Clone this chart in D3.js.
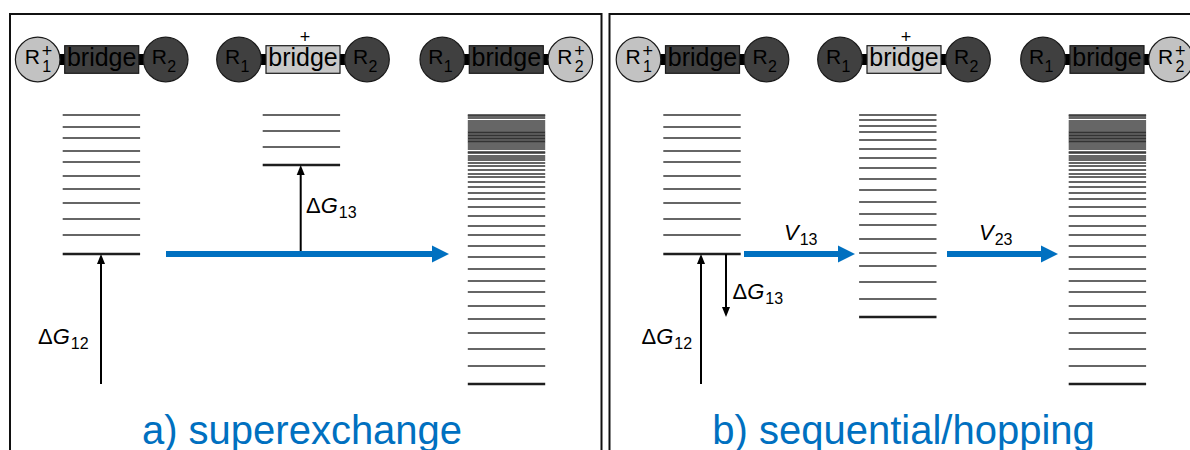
<!DOCTYPE html>
<html>
<head>
<meta charset="utf-8">
<script src="https://cdn.jsdelivr.net/npm/d3@7"></script>
<style>
  html, body { margin: 0; padding: 0; background: #fff; }
  svg { display: block; font-family: "Liberation Sans", Arial, sans-serif; }
</style>
</head>
<body>
<svg id="chart" width="1190" height="450"></svg>
<script>
// ---------------- data ----------------
const panelTitles = ["a) superexchange", "b) sequential/hopping"];
// which site carries the positive charge in each of the three states
const stateCharge = ["R1", "bridge", "R2"];
// energy levels (arbitrary energy units, 0 = acceptor ground level)
const levelsDonor = [269, 257, 246, 233, 222, 208, 195, 181, 165, 149, 130];
const levelsBridgeA = [269, 253, 237, 219];
const levelsBridgeB = [269, 264, 258, 252, 244, 235, 226, 216, 205, 194, 182, 170, 159, 145, 131, 118, 102, 85, 67];
const levelsAcceptor = [269, 268, 266, 263, 261, 259, 257, 255, 253, 251.5, 250, 248.5, 247, 245.5, 244, 242.5, 241,
  239, 237, 235, 232, 231, 228, 226, 224, 221, 218, 214, 210, 207, 202, 197, 191, 185, 177, 168, 158, 149, 138,
  127, 115, 103, 92, 78, 65, 51, 35, 18, 0];
const gapLabels = ["ΔG|12", "ΔG|13"];
const couplingLabels = ["V|13", "V|23"];

// ---------------- layout ----------------
const W = 1190, H = 450;
const svg = d3.select("#chart");
svg.append("rect").attr("width", W).attr("height", H).attr("fill", "#fff");

const y = d3.scaleLinear().domain([0, 269]).range([384, 115]);
const levelHalf = 38.7;
const blue = "#0070C0";

const layout = [
  { off: 0, cols: [101.4, 301.4, 506.5], mols: [101.7, 303, 506.3], levels: [levelsDonor, levelsBridgeA, levelsAcceptor] },
  { off: 601, cols: [702, 897.8, 1107.4], mols: [702.5, 904, 1107], levels: [levelsDonor, levelsBridgeB, levelsAcceptor] }
];

// panel frames
svg.append("path").attr("d", "M10,460 L10,14 L601.5,14 L601.5,460")
  .attr("fill", "none").attr("stroke", "#111").attr("stroke-width", 2);
svg.append("path").attr("d", "M609.5,460 L609.5,14 L1195,14")
  .attr("fill", "none").attr("stroke", "#111").attr("stroke-width", 2);

// ---------------- molecules ----------------
function drawMolecule(cx, cy, charge) {
  const g = svg.append("g");
  const dark = "#404040", light = "#c2c2c2";
  // connectors
  g.append("rect").attr("x", cx - 46).attr("y", cy - 5.5).attr("width", 10).attr("height", 11).attr("fill", "#000");
  g.append("rect").attr("x", cx + 36).attr("y", cy - 5.5).attr("width", 10).attr("height", 11).attr("fill", "#000");
  const sites = [
    { id: "R1", cx: cx - 64, sub: "1" },
    { id: "R2", cx: cx + 64, sub: "2" }
  ];
  sites.forEach(s => {
    const charged = charge === s.id;
    g.append("circle").attr("cx", s.cx).attr("cy", cy).attr("r", 22.3)
      .attr("fill", charged ? light : dark).attr("stroke", "#1a1a1a").attr("stroke-width", 1.2);
    g.append("text").attr("x", s.cx - (charged ? 13 : 14)).attr("y", cy + 4.5)
      .attr("font-size", 21).attr("fill", "#000").text("R");
    g.append("text").attr("x", s.cx + (charged ? 4.5 : 1.5)).attr("y", cy + 12)
      .attr("font-size", 16).attr("fill", "#000").text(s.sub);
    if (charged) {
      g.append("text").attr("x", s.cx + 4).attr("y", cy - 3)
        .attr("font-size", 18).attr("fill", "#000").text("+");
    }
  });
  const bc = charge === "bridge";
  g.append("rect").attr("x", cx - 37).attr("y", cy - 13.8).attr("width", 74).attr("height", 27.6)
    .attr("fill", bc ? "#c8c8c8" : dark).attr("stroke", "#1a1a1a").attr("stroke-width", 1.2);
  g.append("text").attr("x", cx).attr("y", cy + 6).attr("text-anchor", "middle")
    .attr("font-size", 25).attr("fill", "#000").text("bridge");
  if (bc) {
    g.append("text").attr("x", cx + 2).attr("y", cy - 16.5).attr("text-anchor", "middle")
      .attr("font-size", 18).attr("fill", "#000").text("+");
  }
}

// ---------------- helpers ----------------
function vArrow(x, e0, e1) {
  const y0 = y(e0), y1 = y(e1);
  const dir = y1 < y0 ? 1 : -1; // 1 = pointing up
  const head = 10;
  svg.append("line").attr("x1", x).attr("x2", x).attr("y1", y0).attr("y2", y1 + dir * head)
    .attr("stroke", "#000").attr("stroke-width", 2);
  svg.append("path")
    .attr("d", `M${x},${y1} L${x - 4},${y1 + dir * head} L${x + 4},${y1 + dir * head} Z`)
    .attr("fill", "#000");
}
function blueArrow(x0, x1, e) {
  const yy = y(e);
  const head = 17;
  svg.append("rect").attr("x", x0).attr("y", yy - 3).attr("width", x1 - head - x0 + 1).attr("height", 6).attr("fill", blue);
  svg.append("path").attr("d", `M${x1},${yy} L${x1 - head},${yy - 8.5} L${x1 - head},${yy + 8.5} Z`).attr("fill", blue);
}
function label(x, yy, spec, delta) {
  const [main, sub] = spec.split("|");
  const t = svg.append("text").attr("x", x).attr("y", yy).attr("font-size", 22).attr("fill", "#000");
  if (delta) {
    t.append("tspan").text(main[0]);
    t.append("tspan").attr("font-style", "italic").text(main.slice(1));
  } else {
    t.append("tspan").attr("font-style", "italic").text(main);
  }
  t.append("tspan").attr("font-size", 16).attr("dy", 5).attr("dx", 1).text(sub);
}

// ---------------- draw ----------------
layout.forEach((p, pi) => {
  p.mols.forEach((m, i) => drawMolecule(m, 59.5, stateCharge[i]));
  p.cols.forEach((cx, i) => {
    const lv = p.levels[i];
    const minE = d3.min(lv);
    svg.append("g").selectAll("line").data(lv).join("line")
      .attr("x1", cx - levelHalf).attr("x2", cx + levelHalf)
      .attr("y1", d => y(d)).attr("y2", d => y(d))
      .attr("stroke", d => d === minE ? "#1e1e1e" : "#333")
      .attr("stroke-width", d => d === minE ? 2.6 : 1.6);
  });
  // title
  svg.append("text").attr("x", p.off + (pi === 0 ? 302 : 302.5)).attr("y", 444)
    .attr("text-anchor", "middle").attr("font-size", 40).attr("fill", blue).text(panelTitles[pi]);
});

const donorLow = d3.min(levelsDonor);
// panel a
vArrow(101, 0, donorLow);
label(38, 344, gapLabels[0], true);
vArrow(300.7, donorLow, d3.min(levelsBridgeA));
label(306, 213, gapLabels[1], true);
blueArrow(166, 449, donorLow);

// panel b
vArrow(701, 0, donorLow);
label(641.5, 344, gapLabels[0], true);
vArrow(726, donorLow, d3.min(levelsBridgeB));
label(732.5, 299, gapLabels[1], true);
blueArrow(744, 855, donorLow);
blueArrow(947, 1058, donorLow);
label(784, 240, couplingLabels[0], false);
label(979, 240, couplingLabels[1], false);
</script>
</body>
</html>
